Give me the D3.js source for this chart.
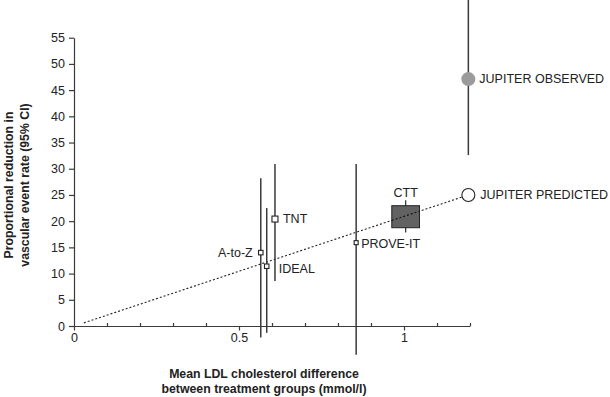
<!DOCTYPE html>
<html>
<head>
<meta charset="utf-8">
<script src="https://cdn.jsdelivr.net/npm/d3@7"></script>
<style>
  body { margin: 0; background: #fff; }
  svg text { font-family: "Liberation Sans", Arial, Helvetica, sans-serif; fill: #222; }
</style>
</head>
<body>
<svg id="chart" width="610" height="397"></svg>
<script>
// trials (small squares)
const studies   = ["A-to-Z", "IDEAL", "TNT", "PROVE-IT"];
const ldlDiff   = [0.566, 0.584, 0.609, 0.855];
const reduction = [14.0, 11.4, 20.4, 15.9];
const ciLow     = [-2.2, -1.3, 8.6, -5.5];
const ciHigh    = [28.2, 22.5, 30.9, 30.9];

// CTT meta-analysis (box)
const cttLdl = 1.005;
const cttReduction = 20.85;
const cttBoxX = [0.963, 1.047];
const cttBoxY = [18.75, 22.95];
const cttCi = [17.85, 24.0];

// JUPITER
const jupiterLdl = 1.195;
const jupiterObserved = 47.1;
const jupiterObservedCi = [32.6, 62.5];
const jupiterPredicted = 25.0;

// regression line (dotted)
const trendX = [0.03, 1.195];
const trendY = [0.6, 25.0];

const yTicks = d3.range(0, 56, 5);
const xMajor = [0, 0.5, 1];
const xMinor = [0.1, 0.2, 0.3, 0.4, 0.6, 0.7, 0.8, 0.9, 1.1, 1.2];

const yTitle = ["Proportional reduction in", "vascular event rate (95% CI)"];
const xTitle = ["Mean LDL cholesterol difference", "between treatment groups (mmol/l)"];

// styling / label placement (pixels, not data)
const markerSize = [4.5, 4.5, 6, 4];
const labelDx = [-8, 12, 8, 5];
const labelDy = [0, 2, 0, 1];
const labelAnchor = ["end", "start", "start", "start"];
const fs = "12.5px";

const svg = d3.select("#chart");
const x = d3.scaleLinear().domain([0, 1.2]).range([74, 470]);
const y = d3.scaleLinear().domain([0, 55]).range([326, 37.7]);
const lineColor = "#3a3a3a";

// y axis
svg.append("g")
  .attr("transform", "translate(" + x(0) + ",0)")
  .call(d3.axisLeft(y).tickValues(yTicks).tickSize(5).tickSizeOuter(0).tickPadding(4))
  .call(g => g.selectAll("text").style("font-size", fs).attr("fill", "#222"))
  .call(g => g.selectAll("line,path").attr("stroke", lineColor).attr("stroke-width", 1.2));

// x axis: labelled ticks downward
svg.append("g")
  .attr("transform", "translate(0," + y(0) + ")")
  .call(d3.axisBottom(x).tickValues(xMajor).tickFormat(d => d === 0 ? "0" : String(d)).tickSize(4.5).tickSizeOuter(0).tickPadding(3))
  .call(g => g.selectAll("text").style("font-size", fs).attr("fill", "#222"))
  .call(g => g.selectAll("line,path").attr("stroke", lineColor).attr("stroke-width", 1.2));

// x axis: minor ticks upward
svg.append("g")
  .attr("transform", "translate(0," + y(0) + ")")
  .call(d3.axisTop(x).tickValues(xMinor).tickFormat("").tickSize(3).tickSizeOuter(0))
  .call(g => g.select(".domain").remove())
  .call(g => g.selectAll("line").attr("stroke", lineColor).attr("stroke-width", 1.2));

// axis titles
svg.append("text")
  .attr("transform", "translate(13," + 185 + ")rotate(-90)")
  .attr("text-anchor", "middle")
  .style("font-size", "12.3px").style("font-weight", "bold")
  .selectAll("tspan").data(yTitle).join("tspan")
  .attr("x", 0).attr("dy", (d, i) => i ? 15.5 : 0)
  .text(d => d);

svg.append("text")
  .attr("transform", "translate(264,378)")
  .attr("text-anchor", "middle")
  .style("font-size", "12.3px").style("font-weight", "bold")
  .selectAll("tspan").data(xTitle).join("tspan")
  .attr("x", 0).attr("dy", (d, i) => i ? 15 : 0)
  .text(d => d);

// dotted regression line
svg.append("line")
  .attr("x1", x(trendX[0])).attr("y1", y(trendY[0]))
  .attr("x2", x(trendX[1])).attr("y2", y(trendY[1]))
  .attr("stroke", "#222").attr("stroke-width", 1.1)
  .attr("stroke-dasharray", "2,2");

// trials: CI lines, square markers, labels
studies.forEach((name, i) => {
  svg.append("line")
    .attr("x1", x(ldlDiff[i])).attr("x2", x(ldlDiff[i]))
    .attr("y1", y(ciLow[i])).attr("y2", y(ciHigh[i]))
    .attr("stroke", lineColor).attr("stroke-width", 1.5);
  const s = markerSize[i];
  svg.append("rect")
    .attr("x", x(ldlDiff[i]) - s / 2).attr("y", y(reduction[i]) - s / 2)
    .attr("width", s).attr("height", s)
    .attr("fill", "#fff").attr("stroke", "#222").attr("stroke-width", 1.1);
  svg.append("text")
    .attr("x", x(ldlDiff[i]) + labelDx[i])
    .attr("y", y(reduction[i]) + labelDy[i])
    .attr("dy", "0.35em")
    .attr("text-anchor", labelAnchor[i])
    .style("font-size", fs)
    .text(name);
});

// CTT
svg.append("line")
  .attr("x1", x(cttLdl)).attr("x2", x(cttLdl))
  .attr("y1", y(cttCi[0])).attr("y2", y(cttCi[1]))
  .attr("stroke", lineColor).attr("stroke-width", 1.3);
svg.append("rect")
  .attr("x", x(cttBoxX[0])).attr("y", y(cttBoxY[1]))
  .attr("width", x(cttBoxX[1]) - x(cttBoxX[0]))
  .attr("height", y(cttBoxY[0]) - y(cttBoxY[1]))
  .attr("fill", "#626262").attr("stroke", "#222").attr("stroke-width", 1);
svg.append("text")
  .attr("x", x(cttLdl)).attr("y", y(cttCi[1]) - 8)
  .attr("dy", "0.35em")
  .attr("text-anchor", "middle")
  .style("font-size", fs)
  .text("CTT");

// redraw the dotted line over the CTT box
const trendAt = v => trendY[0] + (trendY[1] - trendY[0]) * (v - trendX[0]) / (trendX[1] - trendX[0]);
svg.append("line")
  .attr("x1", x(cttBoxX[0])).attr("y1", y(trendAt(cttBoxX[0])))
  .attr("x2", x(cttBoxX[1])).attr("y2", y(trendAt(cttBoxX[1])))
  .attr("stroke", "#111").attr("stroke-width", 1.1)
  .attr("stroke-dasharray", "2,2");

// JUPITER observed
svg.append("line")
  .attr("x1", x(jupiterLdl)).attr("x2", x(jupiterLdl))
  .attr("y1", y(jupiterObservedCi[0])).attr("y2", y(jupiterObservedCi[1]))
  .attr("stroke", lineColor).attr("stroke-width", 1.5);
svg.append("circle")
  .attr("cx", x(jupiterLdl)).attr("cy", y(jupiterObserved)).attr("r", 7)
  .attr("fill", "#9b9b9b");
svg.append("text")
  .attr("x", x(jupiterLdl) + 11).attr("y", y(jupiterObserved))
  .attr("dy", "0.35em")
  .style("font-size", fs)
  .text("JUPITER OBSERVED");

// JUPITER predicted
svg.append("circle")
  .attr("cx", x(jupiterLdl)).attr("cy", y(jupiterPredicted)).attr("r", 6.5)
  .attr("fill", "#fff").attr("stroke", "#222").attr("stroke-width", 1.1);
svg.append("text")
  .attr("x", x(jupiterLdl) + 12).attr("y", y(jupiterPredicted))
  .attr("dy", "0.35em")
  .style("font-size", fs)
  .text("JUPITER PREDICTED");
</script>
</body>
</html>
